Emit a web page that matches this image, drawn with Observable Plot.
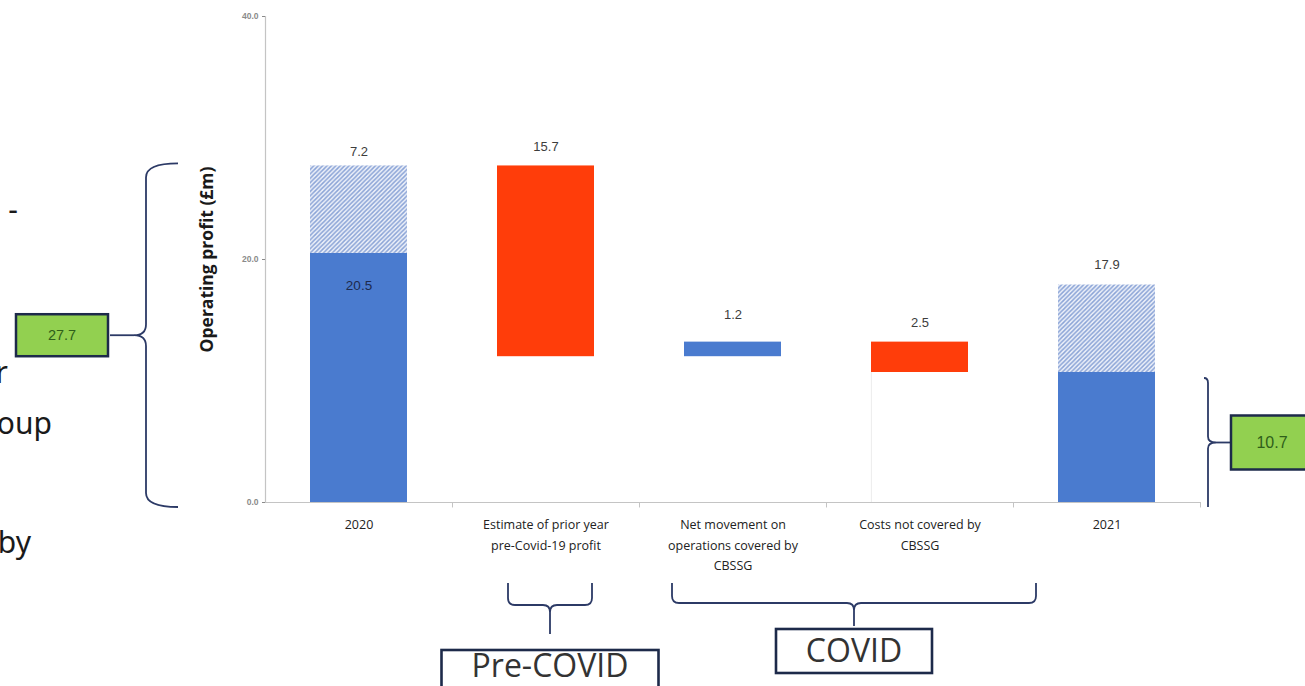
<!DOCTYPE html>
<html>
<head>
<meta charset="utf-8">
<script src="https://cdn.jsdelivr.net/npm/d3@7"></script>
<script src="https://cdn.jsdelivr.net/npm/@observablehq/plot@0.6"></script>
<style>
  body { margin: 0; background: #fff; }
  #chart { position: relative; width: 1305px; height: 686px; overflow: hidden; }
  #chart svg { display: block; }
</style>
</head>
<body>
<div id="chart"></div>
<script>
// Operating profit bridge, 2020 to 2021 (£m)
const categories = [
  "2020",
  "Estimate of prior year pre-Covid-19 profit",
  "Net movement on operations covered by CBSSG",
  "Costs not covered by CBSSG",
  "2021"
];
const tickLabels = [
  "2020",
  "Estimate of prior year\npre-Covid-19 profit",
  "Net movement on\noperations covered by\nCBSSG",
  "Costs not covered by\nCBSSG",
  "2021"
];
const reportedProfit = [20.5, 10.7];        // 2020, 2021 reported operating profit
const underlyingProfit = [27.7, 17.9];      // 2020, 2021 including the hatched element
const bridgeMovements = [-15.7, 1.2, -2.5]; // steps from 2020 underlying to 2021 reported
const yTicks = [0, 20, 40];
const yTitle = "Operating profit (£m)";
const phaseLabels = ["Pre-COVID", "COVID"];
const sideFragments = ["-", "r", "oup", "by"];

const BLUE = "#4a7bcf";
const RED = "#ff3d0a";
const NAVY = "#2c3a66";

// Build the waterfall segments
const segments = [];
segments.push({cat: categories[0], y1: 0, y2: reportedProfit[0], kind: "solid"});
segments.push({cat: categories[0], y1: reportedProfit[0], y2: underlyingProfit[0], kind: "hatch"});
let level = underlyingProfit[0];
bridgeMovements.forEach((m, i) => {
  const next = +(level + m).toFixed(1);
  segments.push({cat: categories[i + 1], y1: level, y2: next, kind: m < 0 ? "down" : "up", value: Math.abs(m)});
  level = next;
});
segments.push({cat: categories[4], y1: 0, y2: reportedProfit[1], kind: "solid"});
segments.push({cat: categories[4], y1: reportedProfit[1], y2: underlyingProfit[1], kind: "hatch"});

const fmt = d => d.toFixed(1);
const upper = d => Math.max(d.y1, d.y2);
const moves = segments.filter(d => d.kind === "down" || d.kind === "up");

// Labels above each column
const hatch2020 = {cat: categories[0], y: underlyingProfit[0], text: fmt(underlyingProfit[0] - reportedProfit[0])};
const hatch2021 = {cat: categories[4], y: underlyingProfit[1], text: fmt(underlyingProfit[1])};
const moveLabels = moves.map(d => ({cat: d.cat, y: upper(d), text: fmt(d.value)}));
const inside2020 = {cat: categories[0], y: reportedProfit[0], text: fmt(reportedProfit[0])};

const labelFont = "'Liberation Sans', Arial, sans-serif";
const bodyFont = "'Open Sans', 'Noto Sans', sans-serif";

const plot = Plot.plot({
  width: 1305,
  height: 686,
  marginLeft: 265,
  marginRight: 105,
  marginTop: 16,
  marginBottom: 184,
  style: {background: "white", overflow: "hidden", fontFamily: labelFont},
  x: {domain: categories, paddingInner: 0.48, paddingOuter: 0.24, label: null},
  y: {domain: [0, 40], label: null},
  marks: [
    // axes
    Plot.ruleY([0], {stroke: "#c4c4c4", strokeWidth: 1.2}),
    Plot.frame({anchor: "left", stroke: "#c4c4c4", strokeWidth: 1.2}),
    Plot.ruleX(categories, {x: d => d, y1: 0, y2: -0.45, dx: 93.5, stroke: "#c4c4c4"}),
    Plot.axisY({
      ticks: yTicks, tickFormat: fmt, tickSize: 3, tickPadding: 4,
      fontSize: 8.5, fontWeight: "bold", color: "#8a8a8a", label: null
    }),
    Plot.text([yTitle], {
      text: d => d, frameAnchor: "left", textAnchor: "middle", rotate: -90, dx: -58,
      fontFamily: bodyFont, fontSize: 17.5, fontWeight: "bold", fill: "#1a1a1a"
    }),
    Plot.axisX({
      tickSize: 0, tickPadding: 12, fontSize: 12.5, fontFamily: bodyFont, lineHeight: 1.65,
      color: "#222", tickFormat: d => tickLabels[categories.indexOf(d)], label: null
    }),
    // faint connector beneath the last movement
    Plot.ruleX([moves[moves.length - 1]], {x: "cat", y1: 0, y2: d => Math.min(d.y1, d.y2), dx: -48.6, stroke: "#ececec"}),
    // bars
    Plot.barY(segments.filter(d => d.kind === "solid" || d.kind === "up"), {x: "cat", y1: "y1", y2: "y2", fill: BLUE}),
    Plot.barY(segments.filter(d => d.kind === "down"), {x: "cat", y1: "y1", y2: "y2", fill: RED}),
    Plot.barY(segments.filter(d => d.kind === "hatch"), {x: "cat", y1: "y1", y2: "y2", fill: "url(#hatch)"}),
    // value labels
    Plot.text([hatch2020], {x: "cat", y: "y", text: "text", dy: -14, fontSize: 13, fill: "#3d3d3d"}),
    Plot.text([hatch2021], {x: "cat", y: "y", text: "text", dy: -20, fontSize: 13, fill: "#3d3d3d"}),
    Plot.text(moveLabels.filter(d => d.text !== "1.2"), {x: "cat", y: "y", text: "text", dy: -19, fontSize: 13, fill: "#3d3d3d"}),
    Plot.text(moveLabels.filter(d => d.text === "1.2"), {x: "cat", y: "y", text: "text", dy: -27, fontSize: 13, fill: "#3d3d3d"}),
    Plot.text([inside2020], {x: "cat", y: "y", text: "text", dy: 32, fontSize: 13.5, fill: "#1d2a4d"})
  ]
});

const svg = d3.select(plot);

// Diagonal hatch pattern
const defs = svg.insert("defs", ":first-child");
const pat = defs.append("pattern")
  .attr("id", "hatch").attr("patternUnits", "userSpaceOnUse")
  .attr("width", 4.4).attr("height", 4.4);
pat.append("rect").attr("width", 4.4).attr("height", 4.4).attr("fill", "#eef2fa");
pat.append("path")
  .attr("d", "M-1.1,1.1 L1.1,-1.1 M0,4.4 L4.4,0 M3.3,5.5 L5.5,3.3")
  .attr("stroke", "#8aa3d6").attr("stroke-width", 1.5);

// Annotations
const xs = plot.scale("x"), ys = plot.scale("y");
const y = v => ys.apply(v);
const bx = c => xs.apply(c);
const bw = xs.bandwidth;
const ann = svg.append("g").attr("fill", "none").attr("stroke", NAVY).attr("stroke-width", 1.8);

// Left brace spanning 2020 total
{
  const x = 146, t = y(underlyingProfit[0]) - 2, b = y(0) + 5, m = (t + b) / 2, e = 178;
  ann.append("path").attr("d",
    `M${e},${t} Q${x},${t} ${x},${t + 14} L${x},${m - 11} Q${x},${m} ${x - 12},${m} Q${x},${m} ${x},${m + 11} L${x},${b - 14} Q${x},${b} ${e},${b}`);
  ann.append("path").attr("d", `M110,${m} L${x - 12},${m}`);
  const g = svg.append("g");
  g.append("rect").attr("x", 16).attr("y", m - 21).attr("width", 92).attr("height", 42)
    .attr("fill", "#92d050").attr("stroke", "#1d2a4a").attr("stroke-width", 2.5);
  g.append("text").attr("x", 62).attr("y", m).attr("dy", "0.35em").attr("text-anchor", "middle")
    .attr("font-family", labelFont).attr("font-size", 14.5).attr("fill", "#2f5f1a").text(fmt(underlyingProfit[0]));
}

// Right bracket spanning 2021 reported profit
{
  const x = bx(categories[4]) + bw + 53, t = y(reportedProfit[1]) + 6, b = y(0) + 5, m = (t + b) / 2;
  ann.append("path").attr("d",
    `M${x - 4},${t} Q${x},${t} ${x},${t + 5} L${x},${m - 6} Q${x},${m} ${x + 8},${m} Q${x},${m} ${x},${m + 6} L${x},${b}`);
  ann.append("path").attr("d", `M${x + 8},${m} L${x + 23},${m}`);
  const g = svg.append("g");
  g.append("rect").attr("x", x + 23).attr("y", m - 27).attr("width", 95).attr("height", 54)
    .attr("fill", "#92d050").attr("stroke", "#1d2a4a").attr("stroke-width", 2.5);
  g.append("text").attr("x", x + 64).attr("y", m).attr("dy", "0.35em").attr("text-anchor", "middle")
    .attr("font-family", labelFont).attr("font-size", 16).attr("fill", "#2f5f1a").text(fmt(reportedProfit[1]));
}

// Bottom braces grouping the bridge steps
function bottomBrace(x0, x1, h, tip) {
  const c = (x0 + x1) / 2, t = 583, r = 7;
  ann.append("path").attr("d",
    `M${x0},${t} L${x0},${h - r} Q${x0},${h} ${x0 + r},${h} L${c - r},${h} Q${c},${h} ${c},${h + r} Q${c},${h} ${c + r},${h} L${x1 - r},${h} Q${x1},${h} ${x1},${h - r} L${x1},${t}`);
  ann.append("path").attr("d", `M${c},${h + r} L${c},${tip}`);
  return c;
}
function phaseBox(cx, y0, w, h, textY, label) {
  const g = svg.append("g");
  g.append("rect").attr("x", cx - w / 2).attr("y", y0).attr("width", w).attr("height", h)
    .attr("fill", "white").attr("stroke", "#1d2a4a").attr("stroke-width", 2.6);
  g.append("text").attr("x", cx).attr("y", textY).attr("dy", "0.35em").attr("text-anchor", "middle")
    .attr("font-family", bodyFont).attr("font-size", 32).attr("fill", "#333").text(label);
}
{
  const c1 = bottomBrace(bx(categories[1]) + 11, bx(categories[1]) + bw - 2, 605, 634);
  phaseBox(c1, 650, 217, 50, 666, phaseLabels[0]);
  const c2 = bottomBrace(bx(categories[2]) - 12, bx(categories[3]) + bw + 68, 603, 626);
  phaseBox(c2, 629, 156, 44, 651, phaseLabels[1]);
}

// Fragments of slide text running in from the left edge
{
  const g = svg.append("g").attr("font-family", "'Noto Sans', sans-serif").attr("font-size", 30)
    .attr("fill", "#1a1a1a").attr("text-anchor", "end");
  const pos = [[18, 220], [8, 383], [52, 434], [31, 553]];
  sideFragments.forEach((t, i) => g.append("text").attr("x", pos[i][0]).attr("y", pos[i][1]).text(t));
}

document.getElementById("chart").appendChild(plot);
</script>
</body>
</html>
